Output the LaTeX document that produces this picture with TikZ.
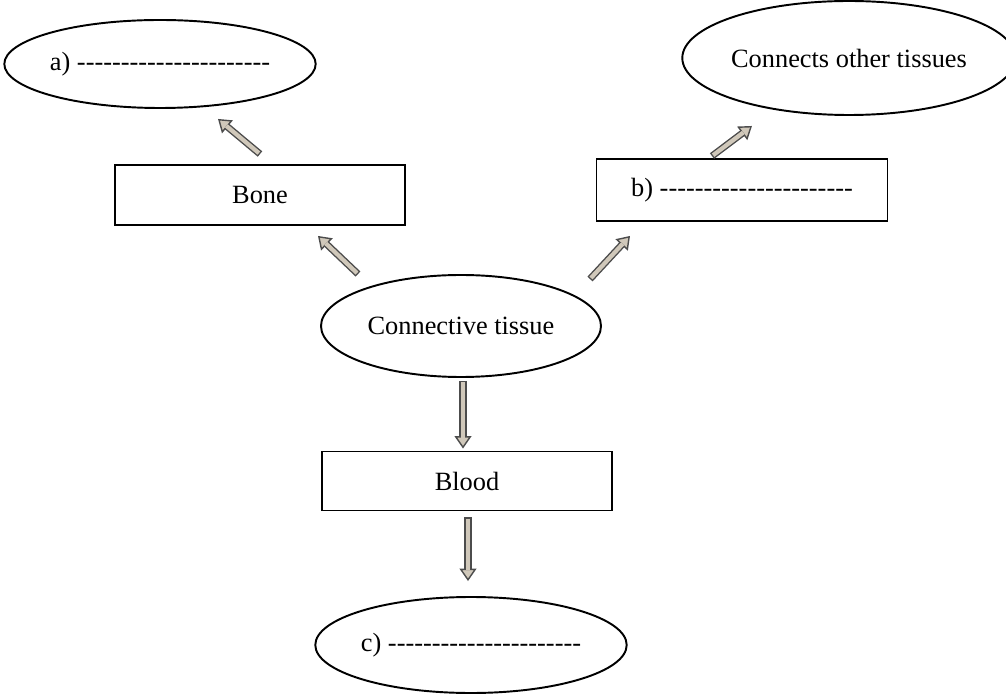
\documentclass[tikz,border=0pt]{standalone}
\usepackage{fontspec}
\setmainfont{Liberation Serif}
\usepackage{tikz}
\usetikzlibrary{shapes.geometric,arrows.meta}
\definecolor{arrowfill}{RGB}{208,200,186}
\newcommand{\blank}{\foreach \k in {1,...,22}{-}}

\begin{document}
\begin{tikzpicture}[font=\fontsize{15}{18}\selectfont,
		oval/.style={draw,ellipse,line width=1.1pt,inner sep=0pt},
		box/.style={draw,rectangle,line width=1.1pt,inner sep=0pt},
		hollow/.style={draw=black!70,line width=4pt,-{Triangle[length=7pt,width=9.5pt,line width=0.8pt,fill=arrowfill]},
			postaction={draw=arrowfill,line width=2.4pt,-,shorten >=6.2pt,shorten <=0.8pt}}]
		\useasboundingbox (0,0) rectangle (20.12,13.88);
		\node [oval,minimum width=6.12cm,minimum height=1.76cm] (a) at (3.20,12.60) {a) \blank};
		\node [oval,minimum width=6.16cm,minimum height=2.28cm] (con) at (16.98,12.72) {Connects other tissues};
		\node [box,minimum width=5.80cm,minimum height=1.20cm] (bone) at (5.20,9.98) {Bone};
		\node [box,minimum width=5.82cm,minimum height=1.24cm] (b) at (14.84,10.08) {b) \blank};
		\node [oval,minimum width=5.60cm,minimum height=2.04cm] (ct) at (9.22,7.36) {Connective tissue};
		\node [box,minimum width=5.80cm,minimum height=1.18cm] (blood) at (9.34,4.26) {Blood};
		\node [oval,minimum width=5.94cm,minimum height=1.92cm] (c) at (9.42,0.98) {c) \blank};
		% arrows
		\draw [hollow] ([yshift=0.2cm]bone.north) -- ([shift={(1.16,-0.2)}]a.south);
		\draw [hollow] ([xshift=-2.06cm]ct.north) -- ([shift={(1.16,-0.2)}]bone.south);
		\draw [hollow] ([shift={(2.58,-0.1)}]ct.north) -- ([shift={(-2.24,-0.28)}]b.south);
		\draw [hollow] ([shift={(-0.6,0.04)}]b.north) -- ([shift={(-1.94,-0.2)}]con.south);
		\draw [hollow] ([shift={(0.04,-0.06)}]ct.south) -- ([shift={(0.04,0.04)}]ct.south |- blood.north);
		\draw [hollow] ([shift={(0.02,-0.12)}]blood.south) -- ([shift={(0.02,0.3)}]blood.south |- c.north);
	\end{tikzpicture}
\end{document}
